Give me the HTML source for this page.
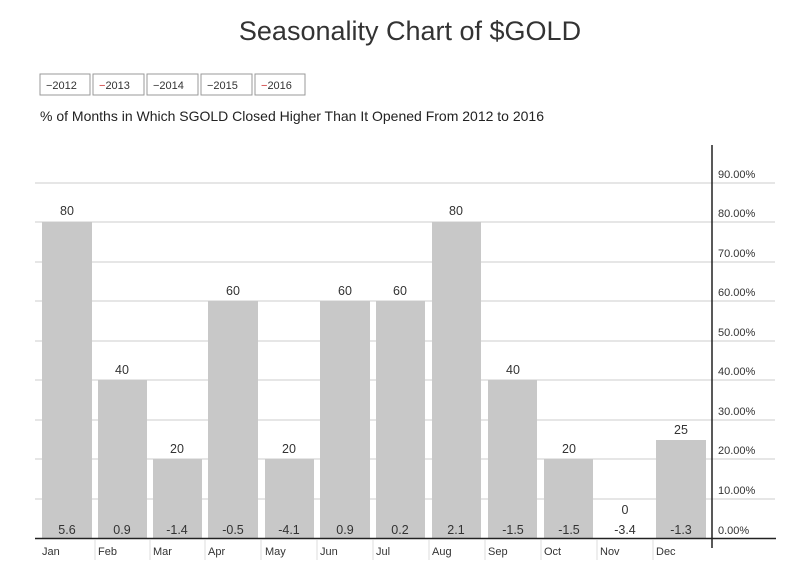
<!DOCTYPE html>
<html><head><style>
body{margin:0;background:#fff;}
svg text{font-family:"Liberation Sans",sans-serif;}
</style></head><body>
<svg width="800" height="567" xmlns="http://www.w3.org/2000/svg">
<rect width="800" height="567" fill="#fff"/>
<text x="410" y="40" font-size="27" fill="#333" text-anchor="middle">Seasonality Chart of $GOLD</text>
<g font-size="11" fill="#333">
<rect x="40" y="74" width="50" height="21" fill="#fff" stroke="#999"/><text x="46" y="89">−2012</text>
<rect x="93" y="74" width="51" height="21" fill="#fff" stroke="#999"/><text x="99" y="89"><tspan fill="#c33">−</tspan>2013</text>
<rect x="147" y="74" width="51" height="21" fill="#fff" stroke="#999"/><text x="153" y="89">−2014</text>
<rect x="201" y="74" width="51" height="21" fill="#fff" stroke="#999"/><text x="207" y="89">−2015</text>
<rect x="255" y="74" width="50" height="21" fill="#fff" stroke="#999"/><text x="261" y="89"><tspan fill="#c33">−</tspan>2016</text>
</g>
<text x="40" y="121" font-size="14" fill="#222">% of Months in Which SGOLD Closed Higher Than It Opened From 2012 to 2016</text>
<g stroke="#ddd" stroke-width="1.5">
<line x1="35" x2="775" y1="183" y2="183"/><line x1="35" x2="775" y1="222" y2="222"/>
<line x1="35" x2="775" y1="262" y2="262"/><line x1="35" x2="775" y1="301" y2="301"/>
<line x1="35" x2="775" y1="341" y2="341"/><line x1="35" x2="775" y1="380" y2="380"/>
<line x1="35" x2="775" y1="420" y2="420"/><line x1="35" x2="775" y1="459" y2="459"/>
<line x1="35" x2="775" y1="499" y2="499"/>
</g>
<g fill="#c8c8c8">
<rect x="42" y="222" width="50" height="316"/>
<rect x="98" y="380" width="49" height="158"/>
<rect x="153" y="459" width="49" height="79"/>
<rect x="208" y="301" width="50" height="237"/>
<rect x="265" y="459" width="49" height="79"/>
<rect x="320" y="301" width="50" height="237"/>
<rect x="376" y="301" width="49" height="237"/>
<rect x="432" y="222" width="49" height="316"/>
<rect x="488" y="380" width="49" height="158"/>
<rect x="544" y="459" width="49" height="79"/>
<rect x="656" y="440" width="50" height="98"/>
</g>
<g font-size="12.5" fill="#333" text-anchor="middle">
<text x="67" y="215">80</text><text x="122" y="374">40</text><text x="177" y="453">20</text>
<text x="233" y="295">60</text><text x="289" y="453">20</text><text x="345" y="295">60</text>
<text x="400" y="295">60</text><text x="456" y="215">80</text><text x="513" y="374">40</text>
<text x="569" y="453">20</text><text x="625" y="514">0</text><text x="681" y="434">25</text>
<text x="67" y="534">5.6</text><text x="122" y="534">0.9</text><text x="177" y="534">-1.4</text>
<text x="233" y="534">-0.5</text><text x="289" y="534">-4.1</text><text x="345" y="534">0.9</text>
<text x="400" y="534">0.2</text><text x="456" y="534">2.1</text><text x="513" y="534">-1.5</text>
<text x="569" y="534">-1.5</text><text x="625" y="534">-3.4</text><text x="681" y="534">-1.3</text>
</g>
<line x1="712" x2="712" y1="145" y2="548" stroke="#222" stroke-width="1.5"/>
<line x1="35" x2="776" y1="538.5" y2="538.5" stroke="#222" stroke-width="1.5"/>
<g font-size="11" fill="#333">
<text x="718" y="178">90.00%</text><text x="718" y="217">80.00%</text><text x="718" y="257">70.00%</text>
<text x="718" y="296">60.00%</text><text x="718" y="336">50.00%</text><text x="718" y="375">40.00%</text>
<text x="718" y="415">30.00%</text><text x="718" y="454">20.00%</text><text x="718" y="494">10.00%</text>
<text x="718" y="534">0.00%</text>
</g>
<g font-size="11" fill="#333">
<text x="42" y="555">Jan</text><text x="98" y="555">Feb</text><text x="153" y="555">Mar</text>
<text x="208" y="555">Apr</text><text x="265" y="555">May</text><text x="320" y="555">Jun</text>
<text x="376" y="555">Jul</text><text x="432" y="555">Aug</text><text x="488" y="555">Sep</text>
<text x="544" y="555">Oct</text><text x="600" y="555">Nov</text><text x="656" y="555">Dec</text>
</g>
<g stroke="#ddd"><line x1="95" x2="95" y1="540" y2="560"/><line x1="150" x2="150" y1="540" y2="560"/><line x1="205" x2="205" y1="540" y2="560"/><line x1="261" x2="261" y1="540" y2="560"/><line x1="317" x2="317" y1="540" y2="560"/><line x1="373" x2="373" y1="540" y2="560"/><line x1="429" x2="429" y1="540" y2="560"/><line x1="485" x2="485" y1="540" y2="560"/><line x1="541" x2="541" y1="540" y2="560"/><line x1="597" x2="597" y1="540" y2="560"/><line x1="653" x2="653" y1="540" y2="560"/></g>
</svg>
</body></html>
